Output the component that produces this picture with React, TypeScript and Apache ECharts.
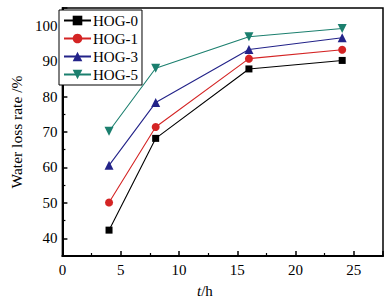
import React, { useEffect, useRef } from "react";
import * as echarts from "echarts";

const hours = [4, 8, 16, 24];
const seriesNames = ["HOG-0", "HOG-1", "HOG-3", "HOG-5"];
const hog0 = [42.3, 68.2, 87.8, 90.2];
const hog1 = [50.1, 71.4, 90.7, 93.2];
const hog3 = [60.6, 78.3, 93.3, 96.6];
const hog5 = [70.2, 88.0, 96.9, 99.2];
const colors = ["#000000", "#d42424", "#232389", "#1b7f6e"];
const symbols = ["rect", "circle", "triangle", "triangle"];
const symbolRotate = [0, 0, 0, 180];

const FONT = "'Liberation Serif', 'Times New Roman', serif";

export default function App() {
  const ref = useRef<HTMLDivElement>(null);
  useEffect(() => {
    document.body.style.margin = "0";
    if (!ref.current) return;
    const chart = echarts.init(ref.current, null, { renderer: "svg" });
    const values = [hog0, hog1, hog3, hog5];
    chart.setOption({
      animation: false,
      backgroundColor: "#ffffff",
      textStyle: { fontFamily: FONT },
      grid: {
        left: 51,
        right: 9,
        top: 8,
        bottom: 44,
        show: true,
        borderColor: "#000",
        borderWidth: 1.5,
        backgroundColor: "transparent",
      },
      legend: {
        orient: "vertical",
        left: 59,
        top: 10,
        padding: [3, 4, 3, 4],
        itemGap: 3,
        itemWidth: 27,
        itemHeight: 12,
        borderColor: "#000",
        borderWidth: 1,
        backgroundColor: "#fff",
        textStyle: { fontFamily: FONT, fontSize: 15, color: "#000", padding: [0, 0, 0, -3] },
        data: seriesNames,
      },
      xAxis: {
        type: "value",
        min: 0,
        max: 27.5,
        interval: 5,
        axisLine: { show: true, onZero: false, lineStyle: { color: "#000", width: 2 } },
        axisTick: { show: true, inside: true, length: 5, lineStyle: { color: "#000", width: 1.5 } },
        minorTick: { show: true, splitNumber: 2, length: 3, lineStyle: { color: "#000", width: 1.2 } },
        splitLine: { show: false },
        axisLabel: {
          fontFamily: FONT,
          fontSize: 15,
          color: "#000",
          margin: 6,
          formatter: (v: number) => (v % 5 === 0 ? String(v) : ""),
        },
      },
      yAxis: {
        type: "value",
        min: 35,
        max: 105,
        splitNumber: 7,
        axisLine: { show: true, onZero: false, lineStyle: { color: "#000", width: 2 } },
        axisTick: { show: true, inside: true, length: 5, lineStyle: { color: "#000", width: 1.5 } },
        minorTick: { show: true, splitNumber: 2, length: 3, lineStyle: { color: "#000", width: 1.2 } },
        splitLine: { show: false },
        axisLabel: {
          fontFamily: FONT,
          fontSize: 15,
          color: "#000",
          margin: 5,
          formatter: (v: number) => (v % 10 === 0 ? String(v) : ""),
        },
        name: "Water loss rate /%",
        nameLocation: "middle",
        nameGap: 31,
        nameTextStyle: { fontFamily: FONT, fontSize: 15.5, color: "#000" },
      },
      graphic: [
        {
          type: "text",
          left: 197,
          top: 283,
          style: {
            text: "{i|t}/h",
            rich: {
              i: { fontFamily: FONT, fontSize: 15, fontStyle: "italic", fill: "#000" },
            },
            fontFamily: FONT,
            fontSize: 15,
            fill: "#000",
          },
        },
      ],
      series: seriesNames.map((name, i) => ({
        name,
        type: "line",
        data: hours.map((h, j) => [h, values[i][j]]),
        symbol: symbols[i],
        symbolRotate: symbolRotate[i],
        symbolSize: i === 1 ? 8 : i === 0 ? 7 : 9,
        showSymbol: true,
        color: colors[i],
        lineStyle: { color: colors[i], width: 1.1 },
        itemStyle: { color: colors[i] },
        z: 2 + i,
      })),
    });
    return () => chart.dispose();
  }, []);
  return <div ref={ref} style={{ width: 392, height: 300 }} />;
}
